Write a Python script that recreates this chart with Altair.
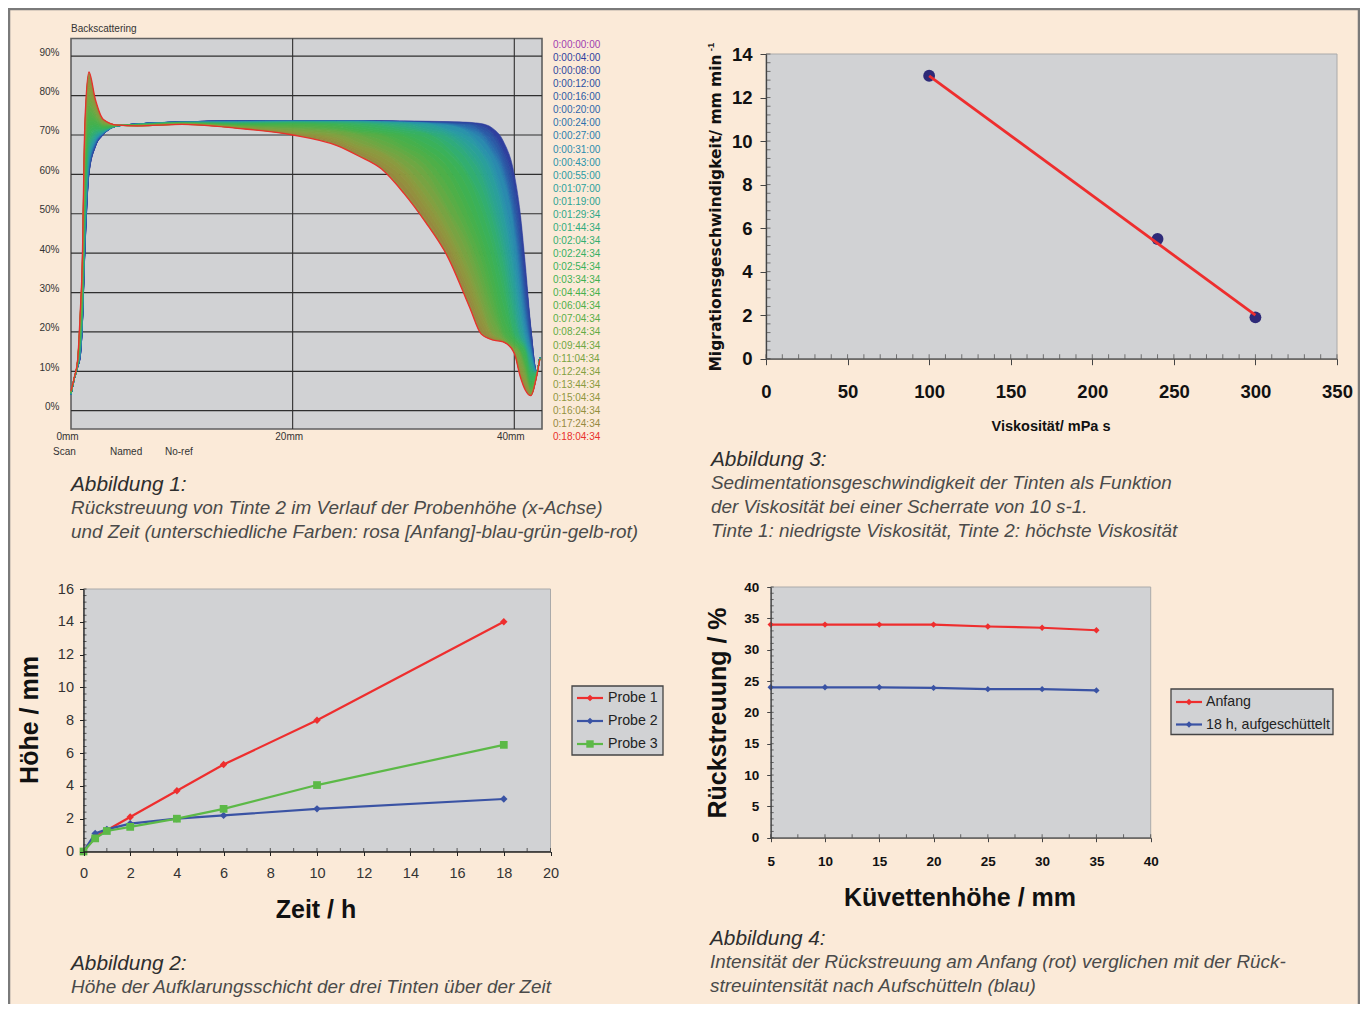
import altair as alt
import pandas as pd

W, H = 1352, 996
PEACH = "#fbead8"
PANEL = "#d1d2d4"
RED, BLUE, GREEN = "#ee2e2e", "#3a53a4", "#5cb947"
SANS, WIDE = "Liberation Sans", "DejaVu Sans"

# ---------- Abbildung 1 data ----------
MM = [0, 0.3, 0.6, 0.85, 1.0, 1.25, 1.62, 2.2, 2.9, 4.2, 6, 10, 15, 20, 24, 26, 28, 30, 32, 34, 36, 37, 38, 39, 40, 40.5, 41, 41.5, 42, 42.3]
TIMES = ["0:00:00:00", "0:00:04:00", "0:00:08:00", "0:00:12:00", "0:00:16:00", "0:00:20:00", "0:00:24:00", "0:00:27:00", "0:00:31:00", "0:00:43:00", "0:00:55:00",
         "0:01:07:00", "0:01:19:00", "0:01:29:34", "0:01:44:34", "0:02:04:34", "0:02:24:34", "0:02:54:34", "0:03:34:34", "0:04:44:34", "0:06:04:34",
         "0:07:04:34", "0:08:24:34", "0:09:44:34", "0:11:04:34", "0:12:24:34", "0:13:44:34", "0:15:04:34", "0:16:04:34", "0:17:24:34", "0:18:04:34"]
TIME_COLORS = ["#a040b0", "#2f3f9e", "#2d479f", "#2c50a2", "#2b5aa6", "#2b66ab", "#2a72ad", "#2a7eae", "#2a8aae", "#2a93aa", "#2a9aa4",
               "#2a9f9b", "#2ba392", "#2da788", "#2fab7c", "#32ae70", "#36b064", "#3ab15a", "#3fb152", "#46b04c", "#4eaf48",
               "#58ad46", "#63aa44", "#6ea743", "#78a342", "#82a040", "#8a9b3f", "#8f963e", "#93903e", "#96893f", "#e8302c"]
BS = [
 [4,8,11,14,20,40,60,67,70,72.3,72.8,73.3,73.6, 73.6,73.6,73.6, 73.6,73.6,73.5,73.4,73.2,72.9,71.8,68.5,60,51,37,21, 10,13.6],
 [4,8,11,14.1,20.2,40.3,60.3,67.1,70,72.3,72.8,73.3,73.6, 73.5,73.5,73.5, 73.5,73.4,73.3,73.2,73,72.6,70.8,66.5,58,49,34.5,20.5, 10,13.6],
 [4,8,11,14.2,20.3,40.7,60.5,67.2,70.1,72.3,72.8,73.3,73.6, 73.5,73.5,73.5, 73.5,73.4,73.2,73.1,72.9,72.3,70.4,65.7,56.5,46.5,32,19.5, 10,13.6],
 [4,8,11.1,14.4,20.6,41.2,60.9,67.4,70.1,72.3,72.8,73.3,73.5, 73.5,73.5,73.5, 73.5,73.4,73.2,73.1,72.9,71.6,69.7,64.4,53.7,43.5,30,18, 9.9,13.6],
 [4,8,11.1,14.6,20.8,41.7,61.3,67.6,70.2,72.3,72.8,73.3,73.5, 73.5,73.5,73.5, 73.4,73.3,73.2,73,72.5,71,68.4,62.9,51.4,41,27.5,17, 9.9,13.6],
 [4.1,8,11.1,14.8,21,42.1,61.7,67.8,70.3,72.3,72.8,73.3,73.5, 73.5,73.5,73.5, 73.4,73.3,73.1,72.9,71.9,70.6,67.3,61.7,49,38.4,25.8,16.6, 9.9,13.6],
 [4.1,8,11.2,15,21.3,42.6,62.1,68,70.3,72.3,72.8,73.3,73.4, 73.5,73.5,73.5, 73.4,73.3,73.1,72.8,71.4,70.1,66.2,60.6,47.5,36,24,16.2, 9.9,13.6],
 [4.1,8,11.2,15.1,21.5,43.1,62.5,68.1,70.4,72.3,72.8,73.2,73.4, 73.5,73.5,73.5, 73.4,73.2,73,72.7,71,69.2,65.4,59,45.8,33.3,22.2,15.7, 9.9,13.5],
 [4.1,8.1,11.2,15.4,21.9,44,63.1,68.4,70.5,72.3,72.7,73.2,73.4, 73.5,73.5,73.5, 73.3,73.2,73,72.5,70.3,67.6,63.5,55,41,30,20,14.6, 9.8,13.5],
 [4.2,8.1,11.3,15.8,22.4,45,63.9,68.8,70.6,72.3,72.7,73.2,73.3, 73.4,73.4,73.4, 73.3,73.2,73,71.6,69.4,66.1,61.6,52,37,26.7,18.8,14, 9.8,13.5],
 [4.2,8.1,11.3,16,22.7,45.6,64.4,69,70.7,72.3,72.7,73.2,73.3, 73.4,73.4,73.4, 73.3,73.1,72.9,71.2,68.2,65.4,60,50,34,24.4,17.9,13.6, 9.7,13.5],
 [4.2,8.1,11.4,16.4,23.2,46.6,65.2,69.4,70.8,72.3,72.7,73.2,73.2, 73.4,73.4,73.4, 73.2,73,72.2,70.7,66.9,63.4,57,46.3,30.7,21.8,17.5,13, 9.7,13.5],
 [4.2,8.1,11.5,16.8,23.7,47.6,66,69.8,70.9,72.3,72.7,73.2,73.2, 73.4,73.4,73.3, 73.1,73,71.6,70.2,65.6,61.6,54,43.3,27.9,19.9,16.8,12, 9.7,13.5],
 [4.3,8.1,11.5,17.1,24.2,48.6,66.8,70.1,71,72.4,72.7,73.1,73.1, 73.3,73.3,73.2, 73,72.4,71.1,69.5,64.3,60,51.5,40.6,25.2,19.1,16.3,11, 9.6,13.4],
 [4.3,8.1,11.6,17.5,24.6,49.6,67.5,70.5,71.2,72.4,72.7,73.1,73.1, 73.2,73.2,73.1, 72.8,71.9,70.7,68.2,62.6,57.3,49,37.7,23,18.5,16,10.6, 9.6,13.4],
 [4.3,8.2,11.7,18,25.3,50.9,68.6,71,71.3,72.4,72.6,73.1,73, 73.2,73.1,73, 72.4,71.3,70.5,66.8,59.6,54,45.4,34,20,17.7,15.5,9.8, 9.5,13.4],
 [4.4,8.2,11.7,18.4,25.9,52.2,69.6,71.4,71.5,72.4,72.6,73.1,72.9, 73.1,73,72.6, 71.8,70.8,69.4,65.6,58.3,51.4,42.5,31,19.3,17.2,15.1,8.8, 9.4,13.4],
 [4.4,8.2,11.8,19,26.7,53.9,70.9,72,71.7,72.4,72.6,73.1,72.8, 73,72.8,72.1, 71.2,70.3,67.9,63.9,55.3,47.5,38.8,27.2,18.5,16.9,14.7,7.6, 9.4,13.3],
 [4.5,8.2,11.9,19.6,27.5,55.5,72.2,72.6,71.9,72.4,72.6,73,72.7, 72.9,72.4,71.5, 70.7,69.7,66.6,61.9,51.5,44.3,35.2,24,17.9,16.1,13,7, 9.3,13.3],
 [4.5,8.3,12,20.2,28.3,57.2,73.5,73.2,72.1,72.4,72.5,73,72.6, 72.7,72,71, 70.4,68.4,65.4,60,48.6,41.4,31.8,21.4,17.3,15.7,12,6.2, 9.2,13.3],
 [4.6,8.3,12.1,20.8,29.1,58.8,74.8,73.8,72.3,72.4,72.5,73,72.5, 72.3,71.6,70.7, 70,67.2,64,57,45.8,38.6,29,19.9,16.8,15.4,11.5,5.8, 9.1,13.3],
 [4.6,8.3,12.2,21.4,29.9,60.5,76.1,74.4,72.5,72.4,72.5,72.9,72.4, 72,71.3,70.4, 68.8,66.2,62.3,54.5,43.1,35.5,26.3,19.1,16.4,15.1,10.8,5.4, 9.1,13.2],
 [4.7,8.3,12.3,22,30.7,62.1,77.4,75,72.7,72.4,72.5,72.9,72.3, 71.8,71,70, 67.7,65.2,60.7,51.4,40.9,32.6,23.9,18.6,16.1,14.8,10,5, 9,13.2],
 [4.7,8.4,12.4,22.6,31.5,63.8,78.7,75.6,72.9,72.4,72.4,72.9,72.2, 71.5,70.5,69, 66.7,63.9,58.7,50,38.3,30,21.7,18.1,15.8,13.9,9.4,4.6, 8.9,13.2],
 [4.8,8.4,12.5,23.2,32.3,65.4,80,76.2,73.1,72.5,72.4,72.8,72.1, 71.1,70.2,68.1, 66,62.5,56.4,47.4,35.6,27.8,19.9,17.9,15.5,12.6,8.6,4.5, 8.8,13.1],
 [4.8,8.4,12.6,23.7,33,66.7,81.1,76.7,73.2,72.5,72.4,72.8,72.1, 70.9,69.5,67.4, 65.6,61.5,54.6,45.6,33.7,26.2,19.6,17.8,15.4,11.9,8.1,4.4, 8.8,13.1],
 [4.9,8.4,12.7,24.2,33.6,68,82.1,77.2,73.4,72.5,72.4,72.8,72, 70.7,69,66.7, 64.5,60.4,53,44.3,31.9,24.5,19.2,17.7,15.2,11.1,7.4,4.3, 8.7,13.1],
 [4.9,8.4,12.8,24.7,34.2,69.4,83.1,77.7,73.6,72.5,72.4,72.8,71.9, 70.5,68.5,66.1, 63.4,59.1,51.5,42.5,30,22.9,18.8,17.6,15,10.5,6.9,4.2, 8.7,13.1],
 [4.9,8.5,12.9,25.2,34.9,70.7,84.2,78.2,73.7,72.5,72.3,72.7,71.8, 70.3,68.1,65.6, 62.5,57.4,50,41.3,28.6,21.4,18.5,17.6,14.8,9.9,6.3,4.1, 8.6,13],
 [5,8.5,12.9,25.6,35.4,71.8,85.1,78.6,73.9,72.5,72.3,72.7,71.8, 70.1,67.7,65.2, 61.7,56,48.7,40,27.5,20,18.2,17.5,14.7,9.4,5.7,3.9, 8.6,13],
 [5,8.5,13,26,36,73,86,79,74,72.5,72.3,72.7,71.7, 70,67.3,64.6, 61.4,55.3,47.8,39,26,19.5,18,17.5,14.6,9,5.2,3.8, 8.5,13],
]
A_YTICKS = [0, 10, 20, 30, 40, 50, 60, 70, 80, 90]
A_XTICKS = [0, 20, 40]
A_VLINES = [20, 40]

# ---------- Abbildung 2 data ----------
C_X = [0, 0.5, 1, 2, 4, 6, 10, 18]
C_P1 = [0, 0.9, 1.3, 2.1, 3.7, 5.3, 8, 14]
C_P2 = [0, 1.1, 1.35, 1.7, 2, 2.2, 2.6, 3.2]
C_P3 = [0, 0.8, 1.25, 1.5, 2, 2.6, 4.05, 6.5]
C_XT = list(range(0, 21, 2))
C_XM = list(range(1, 20, 2))
C_YT = list(range(0, 17, 2))
C_YM = [0.4, 0.8, 1.2, 1.6, 2.4, 2.8, 3.2, 3.6, 4.4, 4.8, 5.2, 5.6, 6.4, 6.8, 7.2, 7.6, 8.4, 8.8, 9.2, 9.6, 10.4, 10.8, 11.2, 11.6, 12.4, 12.8, 13.2, 13.6, 14.4, 14.8, 15.2, 15.6]

# ---------- Abbildung 3 data ----------
B_PX = [100, 240, 300]
B_PY = [13, 5.5, 1.9]
B_LX = [100, 300]
B_LY = [13, 2]
B_XT = [0, 50, 100, 150, 200, 250, 300, 350]
B_XM = [v for v in range(10, 350, 10) if v % 50]
B_YT = [0, 2, 4, 6, 8, 10, 12, 14]
B_YM = [0.4, 0.8, 1.2, 1.6, 2.4, 2.8, 3.2, 3.6, 4.4, 4.8, 5.2, 5.6, 6.4, 6.8, 7.2, 7.6, 8.4, 8.8, 9.2, 9.6, 10.4, 10.8, 11.2, 11.6, 12.4, 12.8, 13.2, 13.6]

# ---------- Abbildung 4 data ----------
D_X = [5, 10, 15, 20, 25, 30, 35]
D_ANFANG = [34, 34, 34, 34, 33.7, 33.5, 33.1]
D_18H = [24, 24, 24, 23.9, 23.7, 23.7, 23.5]
D_XT = [5, 10, 15, 20, 25, 30, 35, 40]
D_XM = [7.5, 12.5, 17.5, 22.5, 27.5, 32.5, 37.5]
D_YT = [0, 5, 10, 15, 20, 25, 30, 35, 40]
D_YM = [v for v in range(1, 40) if v % 5]


def P(v):
    return v - 8


def label(text, x, y, size=14, weight="normal", style="normal", font=SANS, color="#333333", angle=0, align="left"):
    return alt.Chart(pd.DataFrame({"t": [text]})).mark_text(
        fontSize=size, fontWeight=weight, fontStyle=style, font=font, color=color, angle=angle, align=align, baseline="middle"
    ).encode(text="t:N", x=alt.value(P(x)), y=alt.value(P(y)))


def box(x0, y0, x1, y1, fill, stroke, sw=1.0):
    return alt.Chart(pd.DataFrame({"a": [0]})).mark_rect(fill=fill, stroke=stroke, strokeWidth=sw).encode(
        x=alt.value(P(x0)), x2=alt.value(P(x1)), y=alt.value(P(y0)), y2=alt.value(P(y1)))


def xscale(d, a, b):
    return alt.Scale(domain=d, range=[P(a), P(b)], nice=False, zero=False)


def yscale(d, a, b):
    return alt.Scale(domain=d, range=[P(a), P(b)], nice=False, zero=False)


def axis_style(size, weight, font, color, tick, tickc="#444444", domainc="#444444", pad=4, dom=True):
    return dict(title=None, grid=False, domain=dom, domainColor=domainc, domainWidth=1.3, tickSize=tick, tickColor=tickc, tickWidth=1,
                labelFont=font, labelFontSize=size, labelFontWeight=weight, labelColor=color, labelPadding=pad,
                labelOverlap=False, labelBound=False, labelFlush=False, zindex=1, ticks=tick > 0)


def ticks_x(vals, sx, py, length, color="#444444"):
    return alt.Chart(pd.DataFrame({"v": vals})).mark_tick(orient="vertical", size=length, thickness=1, color=color).encode(
        x=alt.X("v:Q", scale=sx, axis=None), y=alt.value(P(py - length / 2)))


def ticks_y(vals, sy, px, length, color="#444444"):
    return alt.Chart(pd.DataFrame({"v": vals})).mark_tick(orient="horizontal", size=length, thickness=1, color=color).encode(
        y=alt.Y("v:Q", scale=sy, axis=None), x=alt.value(P(px + length / 2)))


def series_line(x, y, sx, sy, color, xaxis=None, yaxis=None, width=2.2):
    return alt.Chart(pd.DataFrame({"x": x, "y": y})).mark_line(color=color, strokeWidth=width).encode(
        x=alt.X("x:Q", scale=sx, axis=xaxis), y=alt.Y("y:Q", scale=sy, axis=yaxis))


def series_pts(x, y, sx, sy, color, shape="diamond", size=55):
    return alt.Chart(pd.DataFrame({"x": x, "y": y})).mark_point(color=color, fill=color, filled=True, shape=shape, size=size, opacity=1).encode(
        x=alt.X("x:Q", scale=sx, axis=None), y=alt.Y("y:Q", scale=sy, axis=None))


def key(x0, x1, y, color, shape, size, text, tx):
    line = alt.Chart(pd.DataFrame({"a": [0]})).mark_rule(color=color, strokeWidth=2.2).encode(
        x=alt.value(P(x0)), x2=alt.value(P(x1)), y=alt.value(P(y)))
    pt = alt.Chart(pd.DataFrame({"a": [0]})).mark_point(color=color, fill=color, filled=True, shape=shape, size=size, opacity=1).encode(
        x=alt.value(P((x0 + x1) / 2)), y=alt.value(P(y)))
    return [line, pt, label(text, tx, y, size=14.2, color="#222222")]


layers = [box(9, 9, 1359, 1050, PEACH, "#7a7a7a", 2.5)]

# ===== Abbildung 1 =====
A_L, A_R, A_T, A_B = 71, 542, 38.5, 429
sxA = xscale([0, 42.5], 71, 542)
syA = yscale([-4.65, 94.5], 429, 38.5)
layers.append(box(A_L, A_T, A_R, A_B, PANEL, "#606060", 1.6))
layers.append(alt.Chart(pd.DataFrame({"v": A_YTICKS})).mark_rule(color="#2f2f2f", strokeWidth=1.2).encode(
    y=alt.Y("v:Q", scale=syA, axis=alt.Axis(orient="left", offset=-P(A_L), values=A_YTICKS, labelExpr="datum.value + '%'", labelOffset=-4,
                                             **axis_style(10, "normal", SANS, "#333333", 0, pad=12, dom=False))),
    x=alt.value(P(A_L)), x2=alt.value(P(A_R))))
layers.append(alt.Chart(pd.DataFrame({"v": A_VLINES})).mark_rule(color="#2f2f2f", strokeWidth=1.1).encode(
    x=alt.X("v:Q", scale=sxA, axis=None), y=alt.value(P(A_T)), y2=alt.value(P(A_B))))
layers.append(alt.Chart(pd.DataFrame({"v": A_XTICKS})).mark_tick(opacity=0).encode(
    x=alt.X("v:Q", scale=sxA, axis=alt.Axis(orient="bottom", offset=P(A_B) - H, values=A_XTICKS, labelExpr="datum.value + 'mm'", labelOffset=-4,
                                             **axis_style(10, "normal", SANS, "#333333", 0, pad=2, dom=False))),
    y=alt.value(P(A_B))))

cA = alt.Scale(domain=TIMES, range=TIME_COLORS)
n_curves = len(BS)
band_rows = [{"x": m, "y": BS[i][j], "y2": BS[i + 1][j], "t": TIMES[i + 1]} for i in range(n_curves - 2) for j, m in enumerate(MM)]
last_band = [{"x": m, "y": BS[-2][j], "y2": BS[-1][j]} for j, m in enumerate(MM)]
line_rows = [{"x": m, "y": BS[i][j], "t": TIMES[i]} for i in range(1, n_curves - 1) for j, m in enumerate(MM)]
layers.append(alt.Chart(pd.DataFrame(band_rows)).mark_area(interpolate="monotone", strokeWidth=0.6).encode(
    x=alt.X("x:Q", scale=sxA, axis=None), y=alt.Y("y:Q", scale=syA, axis=None), y2="y2:Q",
    color=alt.Color("t:N", scale=cA, legend=None), stroke=alt.Stroke("t:N", scale=cA, legend=None)))
layers.append(alt.Chart(pd.DataFrame(last_band)).mark_area(interpolate="monotone", color=TIME_COLORS[-2]).encode(
    x=alt.X("x:Q", scale=sxA, axis=None), y=alt.Y("y:Q", scale=syA, axis=None), y2="y2:Q"))
layers.append(alt.Chart(pd.DataFrame(line_rows)).mark_line(interpolate="monotone", strokeWidth=0.8).encode(
    x=alt.X("x:Q", scale=sxA, axis=None), y=alt.Y("y:Q", scale=syA, axis=None),
    color=alt.Color("t:N", scale=cA, legend=None)))
layers.append(alt.Chart(pd.DataFrame({"x": MM, "y": BS[-1]})).mark_line(interpolate="monotone", strokeWidth=1.3, color="#e8302c").encode(
    x=alt.X("x:Q", scale=sxA, axis=None), y=alt.Y("y:Q", scale=syA, axis=None)))
layers.append(alt.Chart(pd.DataFrame({"t": TIMES})).mark_text(fontSize=10, font=SANS, align="left", baseline="middle").encode(
    text="t:N", x=alt.value(P(553)),
    y=alt.Y("t:N", sort=TIMES, axis=None, scale=alt.Scale(type="point", domain=TIMES, range=[P(45), P(437)], padding=0)),
    color=alt.Color("t:N", scale=cA, legend=None)))
layers.append(label("Backscattering", 71, 29, size=10))
layers.append(label("Scan", 53, 452, size=10))
layers.append(label("Named", 110, 452, size=10))
layers.append(label("No-ref", 165, 452, size=10))

# ===== Abbildung 3 =====
B_L, B_R, B_T, B_B = 766, 1337, 54, 358.7
sxB = xscale([0, 350], B_L, B_R)
syB = yscale([0, 14], B_B, B_T)
layers.append(box(B_L, B_T, B_R, B_B, PANEL, "#aaaaaa", 1))
layers.append(ticks_x(B_XM, sxB, B_B, 4.5))
layers.append(ticks_x(B_XT, sxB, B_B, 4.5))
layers.append(ticks_y(B_YM, syB, B_L, 4.5))
layers.append(ticks_y(B_YT, syB, B_L, 4.5))
layers.append(series_pts(B_PX, B_PY, sxB, syB, "#2e2a78", "circle", 140))
layers.append(series_line(B_LX, B_LY, sxB, syB, "#ee2e2e",
    alt.Axis(orient="bottom", offset=P(B_B) - H, values=B_XT, format="d", **axis_style(18.5, "bold", SANS, "#111111", 6, pad=18)),
    alt.Axis(orient="left", offset=-P(B_L), values=B_YT, format="d", **axis_style(18.5, "bold", SANS, "#111111", 6, pad=8)), width=2.8))
layers.append(label("Viskosität/ mPa s", 1051, 427, size=14.5, weight="bold", color="#111111", align="center"))
layers.append(label("Migrationsgeschwindigkeit/ mm min", 716, 213, size=15.5, weight="bold", font=WIDE, color="#111111", angle=270, align="center"))
layers.append(label("-1", 711, 47, size=9.5, weight="bold", color="#111111", angle=270, align="center"))

# ===== Abbildung 2 =====
C_L, C_R, C_T, C_B = 83.5, 550.5, 589, 851.5
sxC = xscale([0, 20], C_L, C_R)
syC = yscale([0, 16], C_B, C_T)
layers.append(box(C_L, C_T, C_R, C_B, PANEL, "#aaaaaa", 1))
layers.append(ticks_x(C_XM, sxC, C_B, 3.5, "#222222"))
layers.append(ticks_x(C_XT, sxC, C_B, 3.5, "#222222"))
layers.append(ticks_y(C_YM, syC, C_L, 3, "#222222"))
layers.append(ticks_y(C_YT, syC, C_L, 3, "#222222"))
layers.append(series_line(C_X, C_P1, sxC, syC, RED,
    alt.Axis(orient="bottom", offset=P(C_B) - H, values=C_XT, format="d", **axis_style(14.5, "normal", SANS, "#333333", 4, tickc="#222222", domainc="#222222", pad=11)),
    alt.Axis(orient="left", offset=-P(C_L), values=C_YT, format="d", **axis_style(14.5, "normal", SANS, "#333333", 4, tickc="#222222", domainc="#222222", pad=6))))
layers.append(series_pts(C_X, C_P1, sxC, syC, RED))
layers.append(series_line(C_X, C_P2, sxC, syC, BLUE))
layers.append(series_pts(C_X, C_P2, sxC, syC, BLUE))
layers.append(series_line(C_X, C_P3, sxC, syC, GREEN))
layers.append(series_pts(C_X, C_P3, sxC, syC, GREEN, "square", 60))
layers.append(label("Zeit / h", 316, 910, size=25, weight="bold", color="#111111", align="center"))
layers.append(label("Höhe / mm", 30, 720, size=25, weight="bold", color="#111111", angle=270, align="center"))
layers.append(box(572, 686, 663, 755, PANEL, "#444444", 1.3))
layers += key(577, 603, 698, RED, "diamond", 45, "Probe 1", 608)
layers += key(577, 603, 721, BLUE, "diamond", 45, "Probe 2", 608)
layers += key(577, 603, 744, GREEN, "square", 55, "Probe 3", 608)

# ===== Abbildung 4 =====
D_L, D_R, D_T, D_BOT = 770.7, 1150.7, 587, 837.7
sxD = xscale([5, 40], D_L, D_R)
syD = yscale([0, 40], D_BOT, D_T)
layers.append(box(D_L, D_T, D_R, D_BOT, PANEL, "#aaaaaa", 1))
layers.append(ticks_x(D_XM, sxD, D_BOT, 3.5, "#333333"))
layers.append(ticks_x(D_XT, sxD, D_BOT, 3.5, "#333333"))
layers.append(ticks_y(D_YM, syD, D_L, 3, "#333333"))
layers.append(ticks_y(D_YT, syD, D_L, 3, "#333333"))
layers.append(series_line(D_X, D_ANFANG, sxD, syD, RED,
    alt.Axis(orient="bottom", offset=P(D_BOT) - H, values=D_XT, format="d", **axis_style(13.5, "bold", SANS, "#111111", 4, pad=13)),
    alt.Axis(orient="left", offset=-P(D_L), values=D_YT, format="d", **axis_style(13.5, "bold", SANS, "#111111", 4, pad=8))))
layers.append(series_pts(D_X, D_ANFANG, sxD, syD, RED, size=40))
layers.append(series_line(D_X, D_18H, sxD, syD, BLUE))
layers.append(series_pts(D_X, D_18H, sxD, syD, BLUE, size=40))
layers.append(label("Küvettenhöhe / mm", 960, 898, size=25, weight="bold", color="#111111", align="center"))
layers.append(label("Rückstreuung / %", 718, 713, size=25, weight="bold", color="#111111", angle=270, align="center"))
layers.append(box(1171, 689, 1333, 734.5, PANEL, "#444444", 1.3))
layers += key(1176, 1202, 702, RED, "diamond", 40, "Anfang", 1206)
layers += key(1176, 1202, 724.5, BLUE, "diamond", 40, "18 h, aufgeschüttelt", 1206)

# ===== Bildunterschriften =====
CAPTIONS = [
    (71, 485, "Abbildung 1:", True),
    (71, 508, "Rückstreuung von Tinte 2 im Verlauf der Probenhöhe (x-Achse)", False),
    (71, 532, "und Zeit (unterschiedliche Farben: rosa [Anfang]-blau-grün-gelb-rot)", False),
    (711, 460, "Abbildung 3:", True),
    (711, 483, "Sedimentationsgeschwindigkeit der Tinten als Funktion", False),
    (711, 507, "der Viskosität bei einer Scherrate von 10 s-1.", False),
    (711, 531, "Tinte 1: niedrigste Viskosität, Tinte 2: höchste Viskosität", False),
    (71, 964, "Abbildung 2:", True),
    (71, 987, "Höhe der Aufklarungsschicht der drei Tinten über der Zeit", False),
    (710, 939, "Abbildung 4:", True),
    (710, 962, "Intensität der Rückstreuung am Anfang (rot) verglichen mit der Rück-", False),
    (710, 986, "streuintensität nach Aufschütteln (blau)", False),
]
for cx, cy, ct, head in CAPTIONS:
    layers.append(label(ct, cx, cy, size=20.8 if head else 18.9, style="italic", color="#2e2e2e" if head else "#4a4a4a"))

chart = alt.layer(*layers).resolve_scale(x="independent", y="independent", color="independent", stroke="independent").properties(
    width=W, height=H, padding=0, autosize=alt.AutoSizeParams(type="none"), background="white"
).configure_view(stroke=None)

chart.save("out.html", embed_options={"renderer": "svg", "actions": False})
